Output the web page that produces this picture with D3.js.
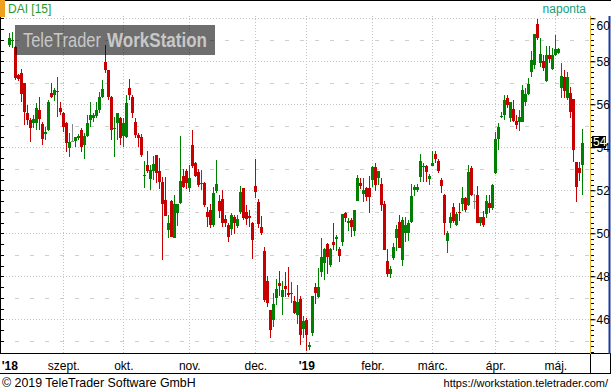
<!DOCTYPE html>
<html><head><meta charset="utf-8">
<script src="https://cdn.jsdelivr.net/npm/d3@7"></script>
<style>
html,body{margin:0;padding:0;background:#fff;}
svg{display:block;}
text{font-family:"Liberation Sans",Arial,sans-serif;}
</style></head><body>
<svg id="chart" width="611" height="392"></svg>
<script>
// trading-day index of first candle (0 = 3 Sept 2018)
const firstIndex = -18;
const open = [58.76,58.94,58.68,57.36,57.44,56.98,55.58,55.27,55.15,55.15,55.73,55.08,54.62,54.80,56.54,56.43,56.56,55.81,
55.58,55.11,53.95,54.31,54.31,54.42,54.80,54.11,54.52,55.27,55.35,55.46,55.73,56.35,57.98,57.59,56.35,54.85,55.12,55.35,54.52,54.50,
56.76,56.35,55.19,54.57,54.49,52.68,53.18,52.54,52.91,53.64,52.90,52.40,51.55,50.15,51.50,49.80,50.93,51.42,52.67,52.90,
52.12,54.10,53.29,52.87,52.29,52.36,51.00,51.08,50.39,51.98,51.52,51.60,50.66,50.39,50.18,50.74,50.34,51.00,52.09,51.00,
50.80,50.49,52.20,51.47,50.28,49.19,47.80,46.43,45.97,47.00,47.70,47.02,47.55,47.24,47.18,46.85,46.20,46.93,45.55,45.97,
44.73,45.38,47.52,47.02,48.21,48.60,49.50,48.53,49.61,49.75,49.29,49.61,50.96,50.49,50.62,50.12,51.52,52.36,51.83,52.09,
52.09,52.48,53.07,52.56,52.30,51.36,48.73,48.10,48.84,49.77,50.54,48.76,50.00,50.03,50.54,52.01,52.01,52.60,53.07,53.13,
52.51,53.13,53.69,53.38,52.48,51.78,49.66,50.46,51.21,50.39,50.99,51.36,51.64,51.32,53.02,51.52,51.78,50.46,50.74,50.90,
51.39,51.16,52.79,54.39,55.39,55.50,56.28,55.38,55.78,55.22,55.19,55.19,56.09,56.49,57.52,57.83,59.72,57.91,58.01,57.08,
58.29,57.64,58.29,58.37,56.77,57.29,56.31,56.53,56.25,53.33,53.02,53.18];
const high = [59.30,59.38,58.72,57.40,57.63,57.00,55.97,55.35,55.50,56.05,56.36,55.19,54.96,56.20,56.98,56.74,57.28,56.12,
55.66,55.19,54.65,55.08,54.49,54.60,54.88,54.65,55.50,56.12,55.60,56.12,56.59,57.13,58.76,57.60,56.40,55.42,55.58,55.39,55.35,56.43,
57.18,56.43,55.35,54.65,54.62,53.36,53.84,53.18,53.58,53.64,53.49,52.60,52.60,50.85,51.55,51.78,51.36,54.52,52.98,52.98,
53.16,54.80,53.33,52.98,52.94,52.40,51.21,51.36,52.14,53.41,51.78,52.01,50.85,50.46,50.96,50.85,50.85,52.20,52.09,51.31,
51.08,50.54,53.44,51.60,50.80,49.38,48.01,46.43,47.24,47.86,48.26,47.76,48.22,48.45,47.75,47.08,47.60,47.08,46.15,46.04,
44.96,47.08,47.67,48.37,49.77,49.30,49.53,49.30,50.46,49.92,49.35,50.90,51.00,50.70,50.70,51.08,52.71,52.56,52.56,52.17,
52.66,53.13,53.25,52.91,52.56,51.52,49.25,48.50,49.56,50.39,50.85,50.77,50.74,50.62,52.29,52.25,52.29,53.69,53.29,53.18,
52.76,53.84,53.84,53.44,52.56,51.83,50.12,50.93,51.42,51.01,51.39,52.14,51.70,53.18,53.13,51.83,52.20,50.77,51.05,51.78,
51.78,52.30,54.73,55.11,55.66,56.43,56.43,56.09,56.20,55.50,55.73,56.90,56.77,57.21,58.48,59.27,59.97,59.10,58.29,58.73,
58.73,58.60,59.22,58.60,57.91,57.60,57.52,56.82,56.25,53.33,53.33,54.85];
const low = [58.68,58.60,57.13,57.10,56.12,55.04,55.04,54.26,54.88,54.80,54.80,54.11,54.34,54.75,56.28,56.17,55.39,55.50,
54.73,53.80,53.53,54.26,54.03,54.35,53.80,53.44,54.49,54.96,55.20,55.35,55.61,56.30,57.44,56.20,54.34,53.56,54.34,54.11,54.00,54.42,
56.20,55.35,54.42,54.03,53.56,52.12,52.80,52.01,52.46,52.32,52.04,48.76,50.80,49.77,49.81,49.80,50.34,51.36,52.09,52.04,
51.94,53.02,52.63,52.17,52.01,51.21,50.28,50.23,50.31,51.86,50.70,50.31,50.28,49.61,49.92,49.97,50.23,50.90,50.62,50.39,
50.31,48.79,51.63,50.23,49.92,46.82,46.59,45.11,45.63,46.67,47.08,46.20,47.05,47.05,46.74,46.25,45.78,44.80,45.11,44.54,
44.57,45.22,46.71,46.98,47.98,47.83,48.11,48.45,49.22,49.19,48.68,49.41,50.54,50.13,49.84,49.87,51.52,52.05,51.47,51.52,
50.96,52.14,51.98,52.25,51.05,49.22,47.95,47.90,48.76,49.19,49.30,48.48,49.61,49.66,50.50,51.73,51.94,52.40,52.40,52.40,
52.25,53.13,53.29,52.82,51.89,49.92,49.10,50.23,50.50,50.34,50.59,51.05,50.98,51.27,51.73,51.12,50.50,50.34,50.28,50.70,
50.96,51.08,52.74,53.87,55.35,55.27,55.81,55.19,55.19,54.85,54.76,55.16,55.94,56.43,57.29,57.64,58.99,57.75,57.55,57.05,
57.91,57.60,58.26,58.32,56.31,56.31,56.20,55.38,53.33,51.47,52.43,51.77];
const close = [59.07,58.98,57.21,57.18,56.48,55.66,55.27,54.88,55.30,55.81,55.30,54.37,54.71,56.12,56.32,56.67,56.62,55.66,
54.96,54.22,54.26,54.31,54.49,54.52,54.03,54.52,55.11,55.50,55.50,55.73,56.35,56.69,57.59,56.35,54.80,54.90,55.58,54.42,55.11,56.05,
56.43,55.58,54.57,54.42,53.64,52.72,52.91,52.94,53.22,52.79,52.40,51.36,50.80,50.46,49.84,51.36,51.36,52.43,52.14,52.32,
52.59,53.14,52.67,52.25,52.32,51.31,50.77,50.39,51.89,52.29,51.05,50.49,50.46,49.81,50.85,50.46,50.65,51.94,50.70,50.65,
50.70,49.69,51.94,50.43,50.03,46.90,46.77,45.51,46.71,47.39,47.55,47.36,47.42,47.13,47.24,46.28,46.82,45.27,45.93,45.27,
44.80,47.08,47.21,47.52,48.91,49.25,48.91,49.25,49.46,49.84,48.96,50.90,50.73,50.59,50.31,51.08,52.56,52.20,52.01,51.67,
51.70,53.07,52.25,52.91,51.30,49.22,48.10,48.35,49.38,50.19,49.30,50.62,50.39,50.50,51.73,52.14,52.17,53.38,53.13,52.87,
52.67,53.29,53.44,52.91,52.20,50.46,50.03,50.77,50.59,50.90,50.93,51.66,51.08,52.87,51.78,51.52,50.50,50.77,50.39,51.50,
51.16,52.25,54.39,54.94,55.46,56.20,55.97,56.09,55.22,55.04,55.39,56.66,56.46,56.93,58.06,59.27,59.10,58.35,57.70,58.29,
58.11,58.29,58.57,58.56,57.33,56.62,57.29,55.66,53.87,52.15,52.79,54.19];

const monthTicks  = [-18, 0, 20, 42, 64, 81, 103, 123, 144, 164];
const monthLabels = ["'18","szept.","okt.","nov.","dec.","'19","febr.","márc.","ápr.","máj."];
const yTicks = [46,48,50,52,54,56,58,60];
const lastPriceLabel = "54";

const data = open.map((o,k)=>({i:firstIndex+k,o,h:high[k],l:low[k],c:close[k]}));

const svg = d3.select("#chart");
const P = {left:0, right:590, top:16, bottom:354};
const x = d3.scaleLinear().domain([-18,173]).range([9.3,582.3]);
const y = d3.scaleLinear().domain([44.386,60.107]).range([P.bottom,P.top]);

svg.append("rect").attr("width",611).attr("height",392).attr("fill","#fff");

// grid
const g = svg.append("g");
const oddTicks = d3.range(45,61,2);
g.selectAll(".hd").data(oddTicks).join("line")
  .attr("x1",0).attr("x2",P.right).attr("y1",d=>Math.round(y(d))+0.5).attr("y2",d=>Math.round(y(d))+0.5)
  .attr("stroke","#cfcfcf").attr("stroke-dasharray","4,11");
g.selectAll(".hm").data(yTicks).join("line")
  .attr("x1",0).attr("x2",P.right).attr("y1",d=>Math.round(y(d))+0.5).attr("y2",d=>Math.round(y(d))+0.5)
  .attr("stroke","#c4c4c4").attr("stroke-dasharray","1,2");
g.selectAll(".vm").data(monthTicks.slice(1)).join("line")
  .attr("x1",d=>Math.round(x(d))+0.5).attr("x2",d=>Math.round(x(d))+0.5).attr("y1",P.top).attr("y2",P.bottom)
  .attr("stroke","#c4c4c4").attr("stroke-dasharray","1,2");

// candles
const col = d => d.c>d.o ? "#008000" : (d.c<d.o ? "#c80000" : "#888888");
const cg = svg.append("g").attr("shape-rendering","crispEdges");
cg.selectAll(".w").data(data).join("rect")
  .attr("x",d=>Math.round(x(d.i))).attr("width",1)
  .attr("y",d=>Math.round(y(d.h))).attr("height",d=>Math.max(1,Math.round(y(d.l))-Math.round(y(d.h))))
  .attr("fill",col);
cg.selectAll(".b").data(data).join("rect")
  .attr("x",d=>Math.round(x(d.i))-1).attr("width",3)
  .attr("y",d=>Math.round(y(Math.max(d.o,d.c))))
  .attr("height",d=>Math.max(1,Math.round(y(Math.min(d.o,d.c)))-Math.round(y(Math.max(d.o,d.c)))))
  .attr("fill",col);

// watermark
svg.append("rect").attr("x",15).attr("y",25).attr("width",200).attr("height",30).attr("fill","#000").attr("opacity",0.57);
const wm = svg.append("text").attr("y",47).attr("font-size",20).attr("fill","#c8c8c8");
wm.append("tspan").attr("x",23).attr("textLength",78).attr("lengthAdjust","spacingAndGlyphs").text("TeleTrader");
wm.append("tspan").attr("x",107).attr("font-weight","bold").attr("textLength",100).attr("lengthAdjust","spacingAndGlyphs").text("WorkStation");

// frame lines
svg.append("line").attr("x1",0).attr("x2",611).attr("y1",0.5).attr("y2",0.5).attr("stroke","#000");
svg.append("line").attr("x1",0.5).attr("x2",0.5).attr("y1",P.top).attr("y2",P.bottom).attr("stroke","#000");
svg.append("line").attr("x1",0).attr("x2",611).attr("y1",P.bottom-0.5).attr("y2",P.bottom-0.5).attr("stroke","#000");
svg.append("line").attr("x1",0).attr("x2",611).attr("y1",373.5).attr("y2",373.5).attr("stroke","#000");
svg.append("line").attr("x1",P.right+0.5).attr("x2",P.right+0.5).attr("y1",P.top).attr("y2",P.bottom).attr("stroke","#e8b830");
svg.append("line").attr("x1",P.right+0.5).attr("x2",P.right+0.5).attr("y1",P.bottom).attr("y2",373).attr("stroke","#000");
svg.append("line").attr("x1",609.5).attr("x2",609.5).attr("y1",P.top).attr("y2",P.bottom).attr("stroke","#1a3aa0").attr("stroke-width",2);
svg.append("line").attr("x1",610.5).attr("x2",610.5).attr("y1",P.bottom).attr("y2",373).attr("stroke","#000");

// left minor ticks
svg.append("g").selectAll("line").data(d3.range(45,60.01,0.5)).join("line")
  .attr("x1",0).attr("x2",4).attr("y1",d=>Math.round(y(d))+0.5).attr("y2",d=>Math.round(y(d))+0.5).attr("stroke","#000");
// right minor ticks
svg.append("g").selectAll("line").data(d3.range(44.5,60.01,0.25)).join("line")
  .attr("x1",P.right+1).attr("x2",P.right+4).attr("y1",d=>Math.round(y(d))+0.5).attr("y2",d=>Math.round(y(d))+0.5).attr("stroke","#000");

// right axis labels
const yAxis = d3.axisRight(y).tickValues(yTicks).tickSize(5).tickFormat(d3.format("d"));
const ya = svg.append("g").attr("transform",`translate(${P.right+0.5},0)`).call(yAxis);
ya.select(".domain").remove();
ya.selectAll(".tick line").attr("stroke","#000");
ya.selectAll(".tick text").attr("font-size",12).attr("x",6).attr("fill","#000")
  .attr("font-family","Liberation Sans, Arial, sans-serif")
  .attr("dy",function(d){return d===60?"0.95em":"0.32em";});

// last price box
const ly = y(close[close.length-1]);
svg.append("rect").attr("x",592).attr("y",Math.round(ly)-7).attr("width",14).attr("height",12).attr("fill","#000");
svg.append("text").attr("x",593).attr("y",Math.round(ly)+3).attr("font-size",12).attr("fill","#fff").text(lastPriceLabel);

// x axis
const xAxis = d3.axisBottom(x).tickValues(monthTicks).tickSize(0).tickFormat((d,k)=>monthLabels[k]);
const xa = svg.append("g").attr("transform",`translate(0,${P.bottom+4})`).call(xAxis);
xa.select(".domain").remove();
xa.selectAll(".tick text").attr("font-size",12).attr("fill","#000").attr("font-family","Liberation Sans, Arial, sans-serif")
  .attr("font-weight",(d,k)=>monthLabels[k].startsWith("'")?"bold":"normal");

// header
svg.append("rect").attr("x",0).attr("y",0).attr("width",5).attr("height",17).attr("fill","#f0a020");
svg.append("text").attr("x",8).attr("y",13).attr("font-size",12).attr("fill","#2a9a2a").text("DAI [15]");
svg.append("text").attr("x",586).attr("y",13).attr("font-size",12).attr("fill","#10a080").attr("text-anchor","end").text("naponta");

// footer
svg.append("text").attr("x",2).attr("y",387).attr("font-size",12.4).attr("fill","#000").text("© 2019 TeleTrader Software GmbH");
svg.append("text").attr("x",608).attr("y",387).attr("font-size",11).attr("fill","#000").attr("text-anchor","end").text("https://workstation.teletrader.com/");
</script>
</body></html>
